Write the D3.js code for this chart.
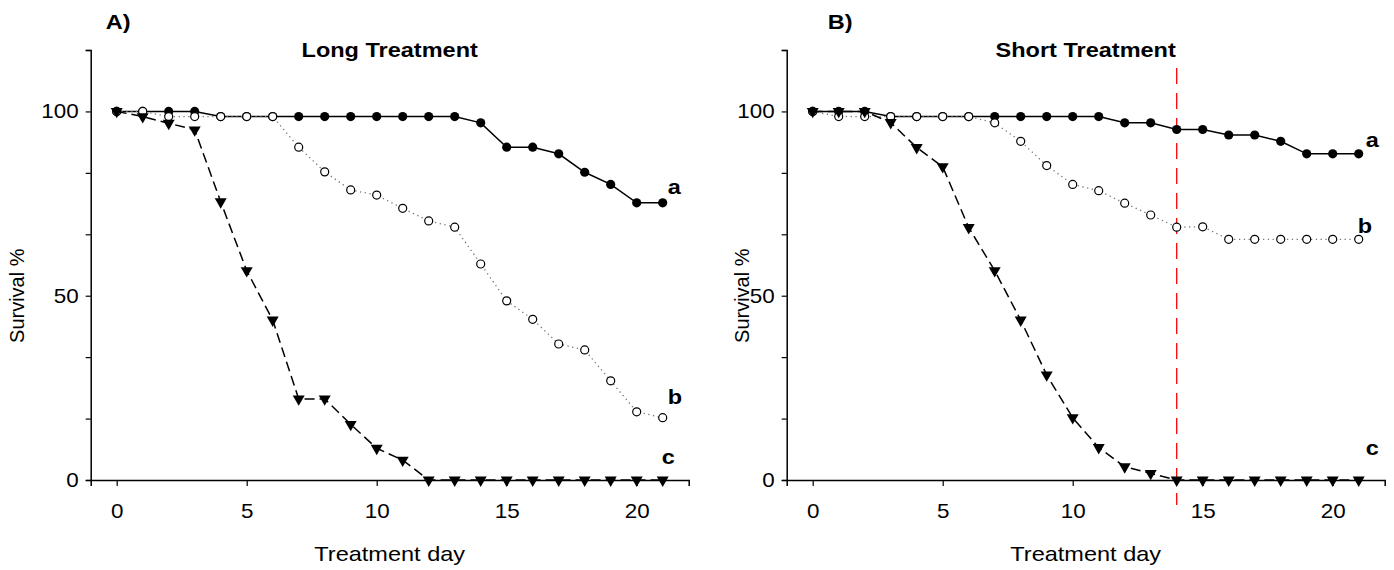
<!DOCTYPE html>
<html>
<head>
<meta charset="utf-8">
<script src="https://cdnjs.cloudflare.com/ajax/libs/d3/7.8.5/d3.min.js"></script>
<style>
body{margin:0;background:#fff;}
text{font-family:Arial,"Liberation Sans",sans-serif;fill:#000;}
</style>
</head>
<body>
<svg id="chart"></svg>
<script>
// treatment days 0..21
var days = d3.range(0,22);

// panel A - long treatment
var longA = [100,100,100,100,98.6,98.6,98.6,98.6,98.6,98.6,98.6,98.6,98.6,98.6,96.9,90.3,90.3,88.5,83.5,80.2,75.2,75.2];
var longB = [100,100,98.6,98.6,98.6,98.6,98.6,90.3,83.6,78.7,77.3,73.7,70.3,68.6,58.6,48.6,43.6,36.9,35.3,26.9,18.5,16.9];
var longC = [100,98.6,96.8,95.0,75.5,56.8,43.4,22.0,22.0,15.1,8.6,5.4,0,0,0,0,0,0,0,0,0,0];

// panel B - short treatment
var shortA = [100,100,100,98.6,98.6,98.6,98.6,98.6,98.6,98.6,98.6,98.6,96.9,96.9,95.1,95.1,93.6,93.6,91.9,88.5,88.5,88.5];
var shortB = [100,98.6,98.6,98.6,98.6,98.6,98.6,96.9,91.9,85.3,80.2,78.5,75.1,71.9,68.6,68.7,65.3,65.3,65.3,65.3,65.3,65.3];
var shortC = [100,100,100,97.0,90.2,85.0,68.5,56.8,43.4,28.5,16.9,8.8,3.6,1.8,0,0,0,0,0,0,0,0];

var xTicks = [0,5,10,15,20];
var yLabels = [0,50,100];
var yTicks = d3.range(0,8).map(function(i){return i*100/6;});
var seriesNames = ["a","b","c"];
var stopDay = 14;

var svg = d3.select("#chart").attr("width",1394).attr("height",570);

var drawPanel = function(cfg)
{
    var xScale = d3.scaleLinear().domain([-1,22]).range([cfg.left,cfg.left+598]);
    var yScale = d3.scaleLinear().domain([0,700/6]).range([480,50]);

    var g = svg.append("g");

    // y axis
    var yAxis = d3.axisLeft(yScale)
        .tickValues(yTicks)
        .tickSize(5)
        .tickPadding(7)
        .tickFormat(function(d){
            var r = Math.round(d);
            return yLabels.indexOf(r)>=0 && Math.abs(r-d)<0.01 ? r : "";
        });
    g.append("g")
        .attr("transform","translate("+cfg.left+",0)")
        .call(yAxis);

    // x axis
    var xAxis = d3.axisBottom(xScale)
        .tickValues(xTicks)
        .tickSize(6)
        .tickPadding(18);
    g.append("g")
        .attr("transform","translate(0,480)")
        .call(xAxis);

    g.selectAll(".domain").attr("stroke","#000").attr("stroke-width",1.5);
    g.selectAll(".tick line").attr("stroke","#000").attr("stroke-width",1.2);
    g.selectAll(".tick text").style("font-size","20px").style("font-family","Arial,'Liberation Sans',sans-serif");

    // red line marking end of short treatment
    if(cfg.stop)
    {
        g.append("line")
            .attr("x1",xScale(stopDay)).attr("x2",xScale(stopDay))
            .attr("y1",68).attr("y2",505)
            .attr("stroke","#ff0000")
            .attr("stroke-width",1.3)
            .attr("stroke-dasharray","16,9");
    }

    var line = d3.line()
        .x(function(d,i){return xScale(days[i]);})
        .y(function(d){return yScale(d);});

    // series a : solid line, filled circles
    g.append("path").datum(cfg.a)
        .attr("d",line).attr("fill","none")
        .attr("stroke","#000").attr("stroke-width",1.5);
    g.selectAll(".ptA").data(cfg.a).enter().append("circle")
        .attr("cx",function(d,i){return xScale(days[i]);})
        .attr("cy",function(d){return yScale(d);})
        .attr("r",4.6).attr("fill","#000");

    // series b : dotted line, open circles
    g.append("path").datum(cfg.b)
        .attr("d",line).attr("fill","none")
        .attr("stroke","#777").attr("stroke-width",1.3)
        .attr("stroke-dasharray","1.3,3.5");
    g.selectAll(".ptB").data(cfg.b).enter().append("circle")
        .attr("cx",function(d,i){return xScale(days[i]);})
        .attr("cy",function(d){return yScale(d);})
        .attr("r",4).attr("fill","#fff")
        .attr("stroke","#000").attr("stroke-width",1.2);

    // series c : dashed line, down triangles
    g.append("path").datum(cfg.c)
        .attr("d",line).attr("fill","none")
        .attr("stroke","#000").attr("stroke-width",1.5)
        .attr("stroke-dasharray","10,5");
    var tri = d3.symbol().type(d3.symbolTriangle).size(62);
    g.selectAll(".ptC").data(cfg.c).enter().append("path")
        .attr("d",tri)
        .attr("transform",function(d,i){
            return "translate("+xScale(days[i])+","+yScale(d)+") rotate(180)";
        })
        .attr("fill","#000");

    // series letters
    var lastVals = [cfg.a[21],cfg.b[21],cfg.c[21]];
    seriesNames.forEach(function(name,i)
    {
        g.append("text")
            .attr("x",xScale(21)+cfg.labelDx[i])
            .attr("y",yScale(lastVals[i])+cfg.labelDy[i])
            .style("font-size","21px").style("font-weight","bold")
            .text(name);
    });

    // panel letter and title
    g.append("text")
        .attr("x",cfg.left+cfg.letterDx).attr("y",29)
        .style("font-size","21px").style("font-weight","bold")
        .text(cfg.letter);
    g.append("text")
        .attr("x",(xScale.range()[0]+xScale.range()[1])/2).attr("y",57)
        .attr("text-anchor","middle")
        .style("font-size","21px").style("font-weight","bold")
        .text(cfg.title);

    // axis titles
    g.append("text")
        .attr("x",(xScale.range()[0]+xScale.range()[1])/2).attr("y",561)
        .attr("text-anchor","middle")
        .style("font-size","21px")
        .text("Treatment day");
    g.append("text")
        .classed("vert",true)
        .attr("transform","translate("+(cfg.left+cfg.ytitleDx)+","+yScale(50)+") rotate(-90)")
        .attr("text-anchor","middle")
        .style("font-size","20px")
        .text("Survival %");
}

drawPanel({left:90.7,a:longA,b:longB,c:longC,letter:"A)",letterDx:15,title:"Long Treatment",
    labelDx:[5,5,-1],labelDy:[-9,-14,-16],stop:false,ytitleDx:-67});
drawPanel({left:786.7,a:shortA,b:shortB,c:shortC,letter:"B)",letterDx:41,title:"Short Treatment",
    labelDx:[7,-1,7],labelDy:[-7,-6,-25],stop:true,ytitleDx:-38});

// the source figure is a little wider than tall, so stretch horizontal text
svg.selectAll("text").filter(function(){return !d3.select(this).classed("vert");})
    .each(function()
    {
        var t = d3.select(this);
        var x = +t.attr("x") || 0;
        var y = +t.attr("y") || 0;
        t.attr("transform","translate("+x+","+y+") scale(1.12,1) translate("+(-x)+","+(-y)+")");
    });
</script>
</body>
</html>
